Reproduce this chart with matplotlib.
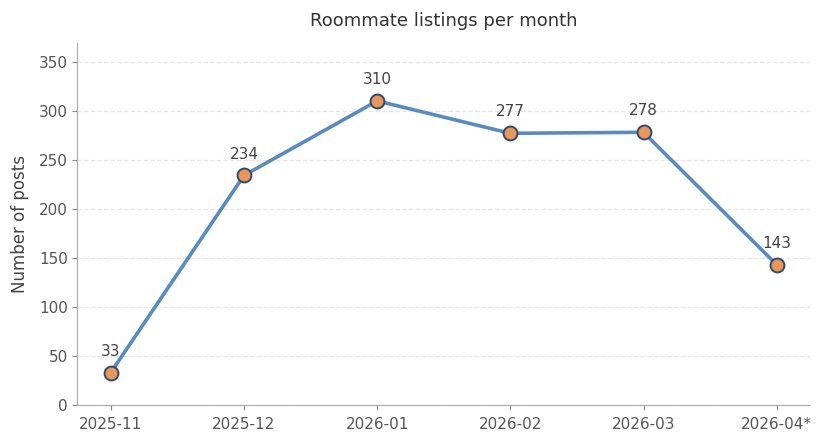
import matplotlib
matplotlib.use('Agg')
import matplotlib.pyplot as plt

months = ['2025-11', '2025-12', '2026-01', '2026-02', '2026-03', '2026-04*']
posts = [33, 234, 310, 277, 278, 143]

fig, ax = plt.subplots(figsize=(8.24, 4.44), dpi=100)
fig.subplots_adjust(left=0.094, right=0.983, top=0.903, bottom=0.088)

x = list(range(len(months)))
ax.plot(x, posts, color='#5a8bbf', linewidth=2.6, zorder=2)
ax.scatter(x, posts, s=100, color='#e8965a', edgecolor='#2f4b6a', linewidth=1.4, zorder=3)

# value labels above each point
for xi, v in zip(x, posts):
    ax.annotate(str(v), (xi, v), xytext=(0, 10), textcoords='offset points',
                ha='center', va='bottom', fontsize=11, color='#444444')

ax.set_xticks(x)
ax.set_xticklabels(months)
ax.set_xlim(-0.25, 5.25)
ax.set_ylim(0, 369)
ax.set_yticks(range(0, 351, 50))
ax.set_ylabel('Number of posts', fontsize=12, color='#444444', labelpad=7)
ax.set_title('Roommate listings per month', fontsize=13, color='#333333', pad=12)

ax.grid(axis='y', linestyle='--', color='#e6e6e6', linewidth=0.9)
ax.set_axisbelow(True)
for side in ['top', 'right']:
    ax.spines[side].set_visible(False)
for side in ['left', 'bottom']:
    ax.spines[side].set_color('#aaaaaa')
ax.tick_params(colors='#555555', labelsize=11)
ax.tick_params(axis='both', color='#888888')
ax.tick_params(axis='x', pad=5)

fig.savefig('out.png', dpi=100)
